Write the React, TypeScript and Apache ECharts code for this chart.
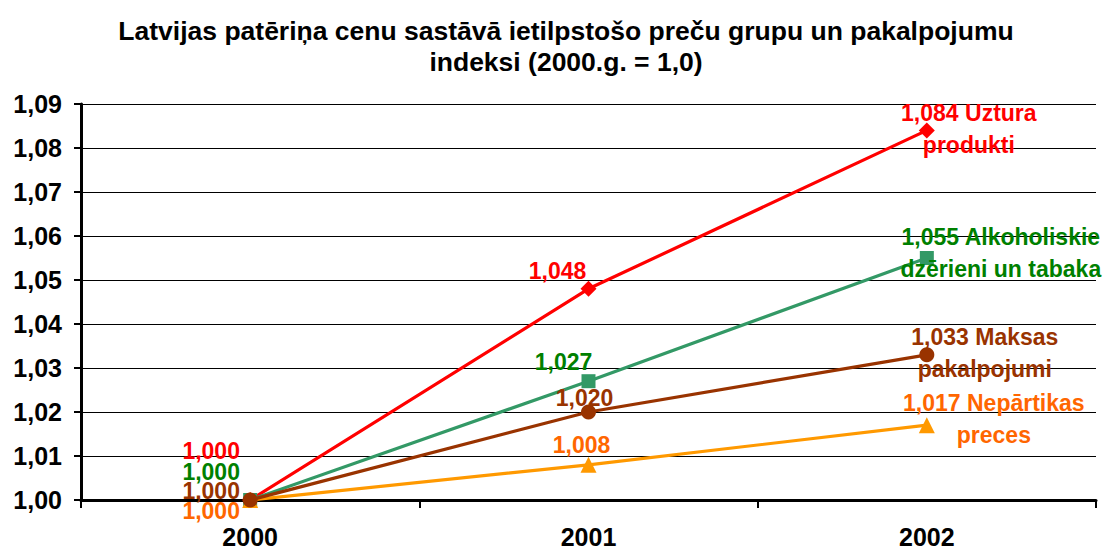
import React, { useEffect, useRef } from "react";
import * as echarts from "echarts";

const years = ["2000", "2001", "2002"];
const uztura = [1.0, 1.048, 1.084];
const alkohols = [1.0, 1.027, 1.055];
const maksas = [1.0, 1.02, 1.033];
const nepartikas = [1.0, 1.008, 1.017];
const yTicks = [1.0, 1.01, 1.02, 1.03, 1.04, 1.05, 1.06, 1.07, 1.08, 1.09];

const fmt = (v: number) => v.toFixed(3).replace(".", ",");
const FONT = "Liberation Sans";

function mkSeries(
  name: string,
  data: number[],
  lineColor: string,
  textColor: string,
  symbol: string,
  symbolSize: number,
  offsets: [number, number][],
  endLabel: string,
  z: number
) {
  return {
    name,
    type: "line",
    data: data.map((v, i) => {
      const last = i === data.length - 1;
      return {
        value: v,
        label: {
          show: true,
          position: "inside",
          offset: offsets[i],
          lineHeight: last ? 32 : 18,
          formatter: last ? endLabel.replace("{v}", fmt(v)) : fmt(v),
        },
      };
    }),
    symbol,
    symbolSize,
    showAllSymbol: true,
    z,
    lineStyle: { color: lineColor, width: 3.2 },
    itemStyle: { color: lineColor },
    label: {
      color: textColor,
      fontFamily: FONT,
      fontWeight: "bold",
      fontSize: 23,
      align: "center",
      verticalAlign: "middle",
    },
    emphasis: { disabled: true },
  };
}

export default function App() {
  const ref = useRef<HTMLDivElement>(null);
  useEffect(() => {
    if (!ref.current) return;
    const chart = echarts.init(ref.current, null, { renderer: "svg" });
    chart.setOption({
      animation: false,
      backgroundColor: "#ffffff",
      title: {
        text: "Latvijas patēriņa cenu sastāvā ietilpstošo preču grupu un pakalpojumu\nindeksi (2000.g. = 1,0)",
        left: 561,
        top: 10,
        textAlign: "center",
        textStyle: {
          fontFamily: FONT,
          fontWeight: "bold",
          fontSize: 26.5,
          lineHeight: 31,
          color: "#000",
        },
      },
      grid: { left: 81, right: 9, top: 104, bottom: 49 },
      xAxis: {
        type: "category",
        data: years,
        boundaryGap: true,
        axisLine: { lineStyle: { color: "#000", width: 3 } },
        axisTick: { show: true, length: 8, lineStyle: { color: "#000", width: 2 } },
        axisLabel: {
          margin: 24,
          color: "#000",
          fontFamily: FONT,
          fontWeight: "bold",
          fontSize: 25,
        },
        splitLine: { show: false },
      },
      yAxis: {
        type: "value",
        min: yTicks[0],
        max: yTicks[yTicks.length - 1],
        interval: 0.01,
        axisLine: { show: true, lineStyle: { color: "#000", width: 3 } },
        axisTick: { show: true, length: 7, lineStyle: { color: "#000", width: 2 } },
        axisLabel: {
          margin: 19,
          color: "#000",
          fontFamily: FONT,
          fontWeight: "bold",
          fontSize: 25,
          formatter: (v: number) => v.toFixed(2).replace(".", ","),
        },
        splitLine: { show: true, lineStyle: { color: "#000", width: 1 } },
      },
      series: [
        mkSeries("Uztura produkti", uztura, "#FF0000", "#FF0000", "diamond", 16,
          [[-39, -49], [-31, -18], [42, -1]], "{v} Uztura\nprodukti", 3),
        mkSeries("Alkoholiskie dzērieni un tabaka", alkohols, "#339966", "#008000", "rect", 14,
          [[-39, -28], [-25, -19], [74, -5]], "{v} Alkoholiskie\ndzērieni un tabaka", 4),
        mkSeries("Nepārtikas preces", nepartikas, "#FF9900", "#FF6600", "triangle", 16,
          [[-39, 11], [-7, -20], [67, -6]], "{v} Nepārtikas\npreces", 5),
        mkSeries("Maksas pakalpojumi", maksas, "#993300", "#993300", "circle", 15,
          [[-39, -9], [-4, -14], [58, -2]], "{v} Maksas\npakalpojumi", 6),
      ],
    });
    return () => chart.dispose();
  }, []);
  return (
    <div
      ref={ref}
      style={{ position: "fixed", left: 0, top: 0, width: 1105, height: 549 }}
    />
  );
}
